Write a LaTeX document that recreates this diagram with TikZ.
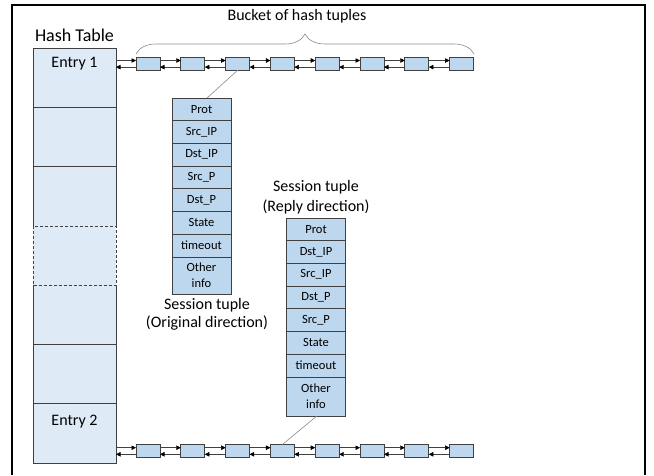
\documentclass[tikz,border=0pt]{standalone}
\usepackage{fontspec}
\setmainfont{Carlito}
\usetikzlibrary{arrows.meta,decorations.pathreplacing}
\definecolor{tablefill}{HTML}{DEEBF7}
\definecolor{cellfill}{HTML}{BDD7EE}
\definecolor{edge}{HTML}{404040}
\definecolor{leader}{HTML}{8A8A8A}
\begin{document}
\begin{tikzpicture}[x=1pt,y=-1pt,
  slot/.style={fill=tablefill, draw=none, minimum width=83pt, minimum height=59.3pt, inner sep=0pt, outer sep=0pt},
  bucketbox/.style={fill=cellfill, draw=edge, line width=0.7pt, minimum width=24pt, minimum height=13pt, inner sep=0pt, outer sep=0pt},
  field/.style={fill=cellfill, draw=edge, line width=0.7pt, minimum width=59pt, minimum height=22.7pt, inner sep=0pt, outer sep=0pt, align=center, font=\fontsize{12.5}{16}\selectfont},
  link/.style={draw=edge, line width=0.6pt, -{Triangle[length=4.5pt,width=4.5pt,color=black]}},
  leaderline/.style={draw=leader, line width=0.6pt},
  tableline/.style={draw=edge, line width=0.8pt},
  caption/.style={inner sep=0pt, font=\fontsize{16}{19}\selectfont, align=center}]
\useasboundingbox (0,0) rectangle (654,475);

% outer frame
\draw[line width=1.2pt] (12,475) -- (12,5) -- (645,5) -- (645,475);

% hash table column
\node[inner sep=0pt, anchor=base, font=\fontsize{18}{20}\selectfont] (title) at (74.5,41.5) {Hash Table};
\foreach \i in {1,...,7}
  \node[slot] (r\i) at (74.5,{77.65+59.3*(\i-1)}) {};
\node[inner sep=0pt, anchor=base, font=\fontsize{16}{18}\selectfont] (entry1) at (74.5,67) {Entry 1};
\node[inner sep=0pt, anchor=base, font=\fontsize{16}{18}\selectfont] (entry2) at (74.5,425) {Entry 2};
\draw[tableline] (r3.south west) -- (r1.north west) -- (r1.north east) -- (r3.south east);
\draw[tableline] (r1.south west) -- (r1.south east);
\draw[tableline] (r2.south west) -- (r2.south east);
\draw[tableline, dashed, dash pattern=on 3pt off 2pt] (r4.north west) rectangle (r4.south east);
\draw[tableline] (r5.north west) -- (r7.south west) -- (r7.south east) -- (r5.north east);
\draw[tableline] (r5.south west) -- (r5.south east);
\draw[tableline] (r6.south west) -- (r6.south east);

% buckets of hash tuples
\foreach \i in {1,...,8} {
  \node[bucketbox] (t\i) at ({148+44.8*(\i-1)},63.8) {};
  \node[bucketbox] (b\i) at ({148+44.8*(\i-1)},451) {};
}
\coordinate (e1) at (r1.east |- t1.west);
\coordinate (e2) at (r7.east |- b1.west);
\draw[link] ([yshift=3.3pt]e1) -- ([yshift=3.3pt]t1.west);
\draw[link] ([yshift=-3.3pt]t1.west) -- ([yshift=-3.3pt]e1);
\draw[link] ([yshift=3.3pt]e2) -- ([yshift=3.3pt]b1.west);
\draw[link] ([yshift=-3.3pt]b1.west) -- ([yshift=-3.3pt]e2);
\foreach \i [evaluate=\i as \j using int(\i+1)] in {1,...,7} {
  \draw[link] ([yshift=3.3pt]t\i.east) -- ([yshift=3.3pt]t\j.west);
  \draw[link] ([yshift=-3.3pt]t\j.west) -- ([yshift=-3.3pt]t\i.east);
  \draw[link] ([yshift=3.3pt]b\i.east) -- ([yshift=3.3pt]b\j.west);
  \draw[link] ([yshift=-3.3pt]b\j.west) -- ([yshift=-3.3pt]b\i.east);
}

% brace over the top bucket
\draw[leaderline, decorate, decoration={brace, amplitude=20pt}] (136,54) -- (474,54);
\node[caption, anchor=base] (bucketlabel) at (297,20) {Bucket of hash tuples};

% session tuple, original direction
\foreach \t [count=\i] in {Prot,Src\_IP,Dst\_IP,Src\_P,Dst\_P,State,timeout}
  \node[field] (o\i) at (201.5,{109.35+22.7*(\i-1)}) {\t};
\node[field, minimum height=37pt] (o8) at (201.5,275.4) {Other\\info};
\node[caption, font=\fontsize{16}{18}\selectfont] (olabel) at (207,314) {Session tuple\\(Original direction)};

% session tuple, reply direction
\foreach \t [count=\i] in {Prot,Dst\_IP,Src\_IP,Dst\_P,Src\_P,State,timeout}
  \node[field] (p\i) at (316,{229.35+22.7*(\i-1)}) {\t};
\node[field, minimum height=39pt] (p8) at (316,396.4) {Other\\info};
\node[caption, font=\fontsize{16}{20}\selectfont] (plabel) at (316,197) {Session tuple\\(Reply direction)};

% leaders from bucket entries to their tuples
\draw[leaderline] (t3.south) -- ([xshift=5.5pt]o1.north);
\draw[leaderline] ([xshift=1pt]p8.south) -- (b4.north);
\end{tikzpicture}
\end{document}
